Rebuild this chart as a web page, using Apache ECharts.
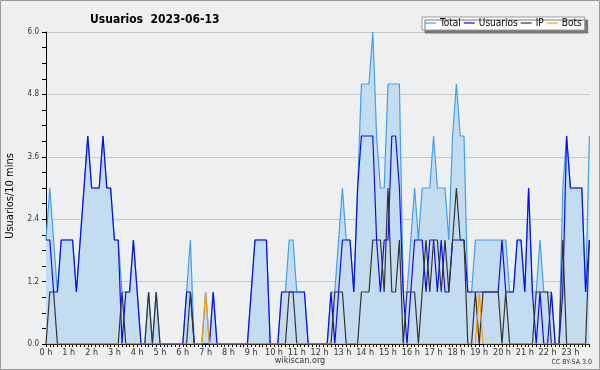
<!DOCTYPE html>
<html><head><meta charset="utf-8">
<script src="https://cdn.jsdelivr.net/npm/echarts@6.0.0/dist/echarts.min.js"></script>
<style>html,body{margin:0;padding:0;background:#eeeff1}#c{width:600px;height:370px;box-sizing:border-box}</style>
</head><body><div id="c"></div>
<script>
// tick labels
const hourLabels = ['0','1','2','3','4','5','6','7','8','9','10','11','12','13','14','15','16','17','18','19','20','21','22','23'];
const minuteLabels = ['00','10','20','30','40','50'];
const yTicks = [0, 1.2, 2.4, 3.6, 4.8, 6.0];
// series values, one row per hour (10-minute steps)
const total = [
  2,3,2,1,2,2,  2,2,1,2,3,4,  3,3,3,4,3,3,  2,2,1,1,1,2,
  1,0,0,1,0,1,  0,0,0,0,0,0,  0,1,2,0,0,0,  1,0,1,0,0,0,
  0,0,0,0,0,0,  1,2,2,2,2,0,  0,0,1,1,2,2,  1,1,1,0,0,0,
  0,0,0,1,1,2,  3,2,2,1,3,5,  5,5,6,4,3,3,  5,5,5,5,1,1,
  2,3,2,3,3,3,  4,3,3,3,2,4,  5,4,4,1,1,2,  2,2,2,2,2,2,
  2,2,1,1,2,2,  1,3,1,1,2,1,  1,1,0,0,3,4,  3,3,3,3,1,4
];
const usuarios = [
  2,2,1,1,2,2,  2,2,1,2,3,4,  3,3,3,4,3,3,  2,2,0,1,1,2,
  1,0,0,0,0,0,  0,0,0,0,0,0,  0,1,1,0,0,0,  0,0,1,0,0,0,
  0,0,0,0,0,0,  1,2,2,2,2,0,  0,0,1,1,1,1,  1,1,1,0,0,0,
  0,0,0,1,0,1,  2,2,2,1,3,4,  4,4,4,2,1,2,  2,4,4,3,1,0,
  1,2,2,2,1,2,  2,1,2,1,1,2,  2,2,2,1,1,1,  1,1,1,1,1,1,
  2,1,1,1,2,2,  1,3,1,0,1,0,  0,1,0,0,1,4,  3,3,3,3,1,2
];
const ip = [
  0,1,1,0,0,0,  0,0,0,0,0,0,  0,0,0,0,0,0,  0,0,1,0,0,0,
  0,0,0,1,0,1,  0,0,0,0,0,0,  0,0,1,0,0,0,  0,0,0,0,0,0,
  0,0,0,0,0,0,  0,0,0,0,0,0,  0,0,0,0,1,1,  0,0,0,0,0,0,
  0,0,0,0,1,1,  1,0,0,0,0,1,  1,1,2,2,2,1,  3,1,1,2,0,1,
  1,1,0,1,2,1,  2,2,1,2,1,2,  3,2,2,0,0,1,  0,1,1,1,1,1,
  0,1,0,0,0,0,  0,0,0,1,1,1,  1,0,0,0,2,0,  0,0,0,0,0,2
];
const bots = [
  0,0,0,0,0,0,  0,0,0,0,0,0,  0,0,0,0,0,0,  0,0,0,0,0,0,
  0,0,0,0,0,0,  0,0,0,0,0,0,  0,0,0,0,0,0,  1,0,0,0,0,0,
  0,0,0,0,0,0,  0,0,0,0,0,0,  0,0,0,0,0,0,  0,0,0,0,0,0,
  0,0,0,0,0,0,  0,0,0,0,0,0,  0,0,0,0,0,0,  0,0,0,0,0,0,
  0,0,0,0,0,0,  0,0,0,0,0,0,  0,0,0,0,0,0,  1,0,0,0,0,0,
  0,0,0,0,0,0,  0,0,0,0,0,0,  0,0,0,0,0,0,  0,0,0,0,0,0
];
const seriesNames = ['Total','Usuarios','IP','Bots'];
const titleText = 'Usuarios  2023-06-13';
const yName = 'Usuarios/10 mins';

const categories = [];
hourLabels.forEach(h => minuteLabels.forEach(m => categories.push(h + ':' + m)));

const FONT = '"DejaVu Sans Condensed", "DejaVu Sans", sans-serif';
const chart = echarts.init(document.getElementById('c'), null, {renderer: 'canvas'});
chart.setOption({
  animation: false,
  backgroundColor: '#eeeff1',
  title: {
    text: titleText, left: 85, top: 9,
    textStyle: {fontFamily: FONT, fontSize: 12, fontWeight: 'bold', color: '#000'}
  },
  legend: {
    left: 422, top: 17, padding: [1, 3, 2, 3], itemGap: 3,
    itemWidth: 11, itemHeight: 1.2, icon: 'rect',
    backgroundColor: '#ffffff', borderColor: '#999', borderWidth: 1,
    shadowColor: '#777', shadowBlur: 0, shadowOffsetX: 3, shadowOffsetY: 3,
    textStyle: {fontFamily: FONT, fontSize: 10, color: '#000', padding: [0, 0, 0, -1]},
    data: seriesNames
  },
  grid: {left: 46, top: 32, right: 10.6, bottom: 26, outerBoundsMode: 'none'},
  xAxis: {
    type: 'category', data: categories, boundaryGap: false,
    axisLine: {lineStyle: {color: '#000', width: 1}},
    axisTick: {show: true, interval: 0, length: 3, lineStyle: {color: '#000'}},
    axisLabel: {interval: 5, margin: 4, fontFamily: FONT, fontSize: 9, color: '#333',
      formatter: v => v.split(':')[0] + ' h'},
    splitLine: {show: false}
  },
  yAxis: {
    type: 'value', min: yTicks[0], max: yTicks[yTicks.length - 1], interval: yTicks[1],
    axisLine: {show: true, lineStyle: {color: '#000', width: 1}},
    axisTick: {show: true, length: 4, lineStyle: {color: '#000'}},
    minorTick: {show: true, splitNumber: 4, length: 4, lineStyle: {color: '#000'}},
    axisLabel: {margin: 7, fontFamily: FONT, fontSize: 8, color: '#333',
      formatter: v => v.toFixed(1)},
    splitLine: {show: true, lineStyle: {color: '#c8c8c8', width: 1}}
  },
  graphic: [
    {type: 'text', x: 10, y: 196, rotation: Math.PI / 2,
     style: {text: yName, fontFamily: FONT, fontSize: 11, fill: '#000', align: 'center', verticalAlign: 'middle'}},
    {type: 'text', x: 300, y: 361,
     style: {text: 'wikiscan.org', fontFamily: FONT, fontSize: 9, fill: '#333', align: 'center', verticalAlign: 'middle'}},
    {type: 'text', x: 592, y: 362,
     style: {text: 'CC BY-SA 3.0', fontFamily: FONT, fontSize: 7, fill: '#333', align: 'right', verticalAlign: 'middle'}},
    {type: 'rect', shape: {x: 0.5, y: 0.5, width: 599, height: 369}, silent: true,
     style: {fill: 'none', stroke: '#9a9a9a', lineWidth: 1}}
  ],
  series: [
    {name: seriesNames[0], type: 'line', data: total, symbol: 'none',
     itemStyle: {color: '#3f9ff5'}, lineStyle: {color: '#3f9ff5', width: 1.2},
     areaStyle: {color: '#c4dcf0', opacity: 1}},
    {name: seriesNames[1], type: 'line', data: usuarios, symbol: 'none',
     itemStyle: {color: '#0a0aff'}, lineStyle: {color: '#0a0aff', width: 1.2}},
    {name: seriesNames[2], type: 'line', data: ip, symbol: 'none',
     itemStyle: {color: '#333333'}, lineStyle: {color: '#333333', width: 1.2}},
    {name: seriesNames[3], type: 'line', data: bots, symbol: 'none',
     itemStyle: {color: '#ff9a00'}, lineStyle: {color: '#ff9a00', width: 1.2}}
  ]
});
</script></body></html>
